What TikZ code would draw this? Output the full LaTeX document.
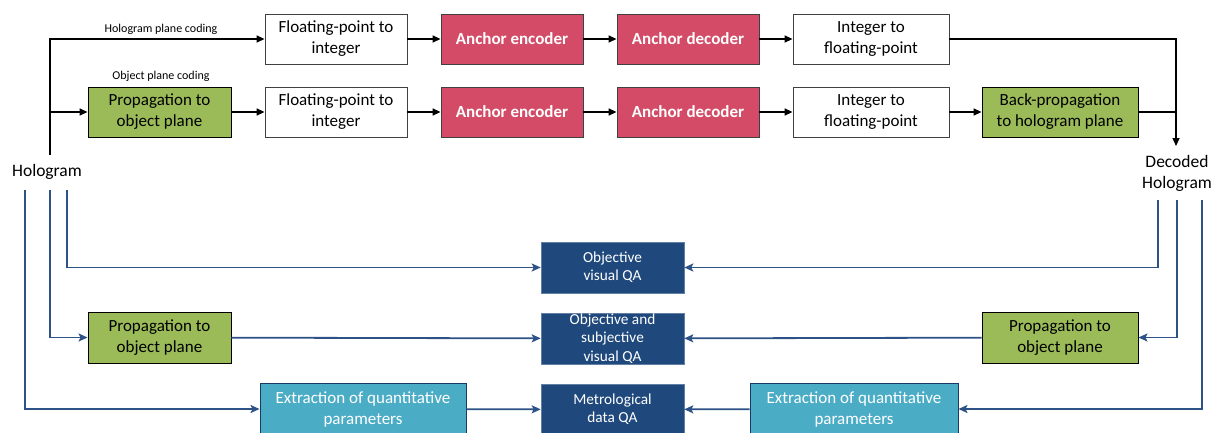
\documentclass[tikz,border=0pt]{standalone}
\usepackage{fontspec}
\setmainfont{Carlito}
\usepackage{tikz}
\usetikzlibrary{arrows.meta, positioning}
\usepackage{xcolor}

\definecolor{anchorred}{HTML}{D34B66}
\definecolor{propgreen}{HTML}{9BBB59}
\definecolor{qablue}{HTML}{1F497D}
\definecolor{paramcyan}{HTML}{4BACC6}
\definecolor{linkblue}{HTML}{2C5287}

\tikzset{
    stagebox/.style={draw=black!75, line width=0.9pt, align=center, minimum height=50pt, inner sep=1pt, font=\fontsize{17}{21}\selectfont},
    whitebox/.style={stagebox, fill=white, minimum width=142pt},
    anchorbox/.style={stagebox, fill=anchorred, text=white, minimum width=142pt, font=\fontsize{17}{21}\selectfont\bfseries},
    propbox/.style={stagebox, fill=propgreen, draw=black, minimum width=143pt},
    qabox/.style={stagebox, fill=qablue, draw=qablue!70!white, line width=0.6pt, text=white, minimum width=143pt, minimum height=51pt, font=\fontsize{15.3}{18.3}\selectfont},
    parambox/.style={stagebox, fill=paramcyan, draw=qablue!80!black, text=white, minimum height=52pt},
    blackline/.style={draw=black, line width=1.5pt, -{Triangle[length=8pt,width=7pt]}},
    blueline/.style={draw=linkblue, line width=1.8pt, -{Stealth[length=9pt,width=8pt,inset=2pt]}},
}

\begin{document}
\begin{tikzpicture}[x=1pt, y=-1pt]
    \useasboundingbox[fill=white] (0,0) rectangle (1220,432);

    \node[whitebox] (fti1) at (336,39) {Floating-point to\\integer};
    \node[anchorbox] (enc1) at (512,39) {Anchor encoder};
    \node[anchorbox] (dec1) at (688,39) {Anchor decoder};
    \node[whitebox, minimum width=156pt] (itf1) at (871,39) {Integer to\\floating-point};

    \node[propbox] (prop1) at (159.5,112) {Propagation to\\object plane};
    \node[whitebox] (fti2) at (336,112) {Floating-point to\\integer};
    \node[anchorbox] (enc2) at (512,112) {Anchor encoder};
    \node[anchorbox] (dec2) at (688,112) {Anchor decoder};
    \node[whitebox, minimum width=156pt] (itf2) at (871,112) {Integer to\\floating-point};
    \node[propbox, minimum width=156pt] (backprop) at (1060,112) {Back-propagation\\to hologram plane};

    \node[font=\fontsize{12}{14}\selectfont] (holocode) at (161,29) {Hologram plane coding};
    \node[font=\fontsize{12}{14}\selectfont] (objcode) at (161,76) {Object plane coding};

    \node[font=\fontsize{17.5}{21}\selectfont] (holo) at (47,172) {Hologram};
    \node[font=\fontsize{17.5}{21}\selectfont, align=center] (decoded) at (1177,173) {Decoded\\Hologram};

    \coordinate (holofoot) at (50,155);
    \coordinate (decodedtop) at (1176,146);

    \draw[blackline] (holofoot) |- (fti1);
    \draw[blackline] (holofoot |- prop1) -- (prop1);
    \draw[blackline] (fti1) -- (enc1);
    \draw[blackline] (enc1) -- (dec1);
    \draw[blackline] (dec1) -- (itf1);
    \draw[blackline] (prop1) -- (fti2);
    \draw[blackline] (fti2) -- (enc2);
    \draw[blackline] (enc2) -- (dec2);
    \draw[blackline] (dec2) -- (itf2);
    \draw[blackline] (itf2) -- (backprop);
    \draw[blackline] (itf1) -| (decodedtop);
    \draw[black, line width=1.5pt] (backprop) -- (backprop -| decodedtop);

    \node[qabox] (qaobj) at (612.5,267.5) {Objective\\visual QA};
    \node[qabox] (qasubj) at (612.5,338.5) {Objective and\\subjective\\visual QA};
    \node[qabox] (qametro) at (612.5,409.5) {Metrological\\data QA};

    \node[propbox, minimum width=143pt, minimum height=51pt] (propleft) at (159.5,337.5) {Propagation to\\object plane};
    \node[propbox, minimum width=156pt, minimum height=51pt] (propright) at (1060,337.5) {Propagation to\\object plane};
    \node[parambox, minimum width=206pt] (extleft) at (363,409) {Extraction of quantitative\\parameters};
    \node[parambox, minimum width=208pt] (extright) at (854,409) {Extraction of quantitative\\parameters};

    \coordinate (lfar) at (25,190);
    \coordinate (lmid) at (50,190);
    \coordinate (lnear) at (67,190);
    \coordinate (rnear) at (1158,200);
    \coordinate (rmid) at (1177,200);
    \coordinate (rfar) at (1202,200);

    \draw[blueline] (lnear) |- (qaobj);
    \draw[blueline] (lmid) |- (propleft);
    \draw[blueline] (lfar) |- (extleft);
    \draw[blueline] (propleft) -- (qasubj);
    \draw[blueline] (extleft) -- (qametro);
    \draw[blueline] (rnear) |- (qaobj);
    \draw[blueline] (rmid) |- (propright);
    \draw[blueline] (rfar) |- (extright);
    \draw[blueline] (propright) -- (qasubj);
    \draw[blueline] (extright) -- (qametro);
\end{tikzpicture}
\end{document}
